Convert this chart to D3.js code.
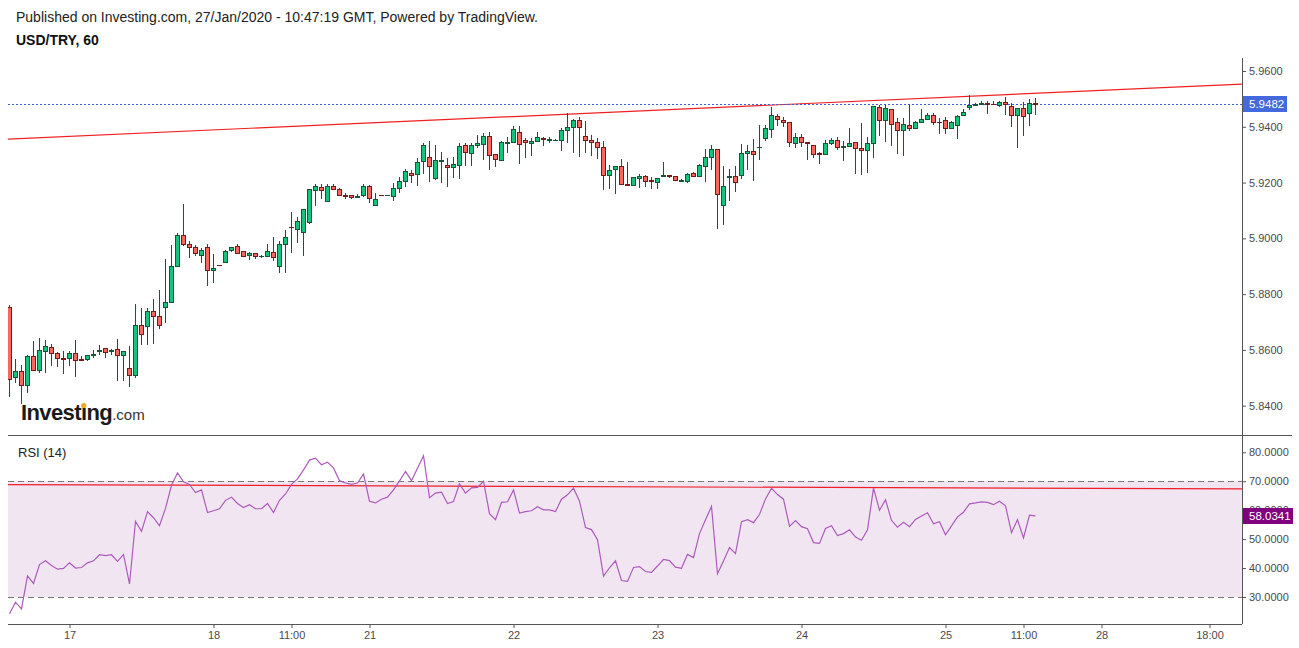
<!DOCTYPE html>
<html><head><meta charset="utf-8">
<script src="https://cdn.jsdelivr.net/npm/d3@7"></script>
<style>body{margin:0;background:#fff;} svg{display:block;font-family:"Liberation Sans",Arial,sans-serif;}</style>
</head><body>
<svg id="c" width="1299" height="648"></svg>
<script>
// ---- data (hourly USD/TRY candles, index 0 = first visible bar) ----
const opens = [
5.8754,5.8502,5.8523,5.8473,5.8578,5.8527,5.8595,5.8609,5.8589,5.8570,
5.8570,5.8588,5.8566,5.8566,5.8581,5.8595,5.8606,5.8597,5.8602,5.8581,
5.8534,5.8509,5.8688,5.8685,5.8738,5.8721,5.8755,5.8771,5.8900,5.9011,
5.8979,5.8968,5.8940,5.8968,5.8885,5.8905,5.8917,5.8957,5.8971,5.8954,
5.8939,5.8946,5.8935,5.8936,5.8950,5.8900,5.8979,5.9040,5.9033,5.9022,
5.9058,5.9172,5.9183,5.9133,5.9187,5.9176,5.9154,5.9154,5.9147,5.9155,
5.9187,5.9119,5.9155,5.9154,5.9151,5.9180,5.9205,5.9236,5.9230,5.9276,
5.9291,5.9215,5.9276,5.9262,5.9255,5.9262,5.9335,5.9307,5.9334,5.9337,
5.9366,5.9301,5.9280,5.9343,5.9344,5.9380,5.9351,5.9341,5.9348,5.9359,
5.9354,5.9352,5.9351,5.9387,5.9398,5.9423,5.9366,5.9352,5.9344,5.9327,
5.9226,5.9248,5.9258,5.9195,5.9191,5.9215,5.9222,5.9208,5.9201,5.9223,
5.9226,5.9222,5.9207,5.9205,5.9233,5.9223,5.9258,5.9291,5.9319,5.9119,
5.9221,5.9222,5.9226,5.9305,5.9312,5.9326,5.9359,5.9391,5.9438,5.9423,
5.9416,5.9341,5.9362,5.9345,5.9334,5.9305,5.9301,5.9341,5.9352,5.9327,
5.9330,5.9345,5.9323,5.9316,5.9341,5.9470,5.9423,5.9463,5.9416,5.9387,
5.9405,5.9395,5.9416,5.9427,5.9441,5.9418,5.9423,5.9395,5.9405,5.9441,
5.9470,5.9477,5.9481,5.9484,5.9483,5.9477,5.9488,5.9473,5.9441,5.9466,
5.9448,5.9485];
const highs = [
5.8760,5.8567,5.8547,5.8580,5.8632,5.8643,5.8635,5.8620,5.8594,5.8596,
5.8596,5.8635,5.8578,5.8581,5.8599,5.8617,5.8606,5.8603,5.8639,5.8595,
5.8615,5.8765,5.8749,5.8749,5.8782,5.8815,5.8926,5.8976,5.9018,5.9123,
5.8990,5.8975,5.8966,5.8980,5.8944,5.8905,5.8960,5.8968,5.8980,5.8954,
5.8950,5.8946,5.8942,5.8980,5.9004,5.8990,5.9029,5.9094,5.9076,5.9104,
5.9176,5.9194,5.9194,5.9194,5.9194,5.9180,5.9161,5.9154,5.9158,5.9194,
5.9190,5.9161,5.9157,5.9157,5.9198,5.9219,5.9247,5.9245,5.9288,5.9341,
5.9349,5.9334,5.9310,5.9287,5.9290,5.9341,5.9341,5.9341,5.9372,5.9377,
5.9380,5.9301,5.9349,5.9362,5.9403,5.9403,5.9359,5.9359,5.9380,5.9362,
5.9362,5.9356,5.9394,5.9448,5.9427,5.9434,5.9420,5.9369,5.9359,5.9348,
5.9262,5.9258,5.9283,5.9273,5.9219,5.9230,5.9226,5.9219,5.9215,5.9273,
5.9226,5.9222,5.9212,5.9233,5.9237,5.9266,5.9319,5.9334,5.9319,5.9259,
5.9248,5.9258,5.9338,5.9334,5.9355,5.9406,5.9406,5.9470,5.9445,5.9434,
5.9416,5.9377,5.9373,5.9345,5.9334,5.9309,5.9352,5.9359,5.9362,5.9348,
5.9395,5.9345,5.9412,5.9362,5.9473,5.9478,5.9478,5.9463,5.9430,5.9430,
5.9478,5.9420,5.9464,5.9448,5.9448,5.9431,5.9434,5.9420,5.9441,5.9462,
5.9513,5.9486,5.9491,5.9494,5.9491,5.9491,5.9506,5.9484,5.9466,5.9488,
5.9499,5.9502];
const lows = [
5.8431,5.8481,5.8406,5.8444,5.8527,5.8518,5.8518,5.8543,5.8540,5.8515,
5.8543,5.8504,5.8560,5.8560,5.8572,5.8583,5.8570,5.8580,5.8490,5.8490,
5.8466,5.8500,5.8618,5.8617,5.8622,5.8676,5.8695,5.8767,5.8896,5.8973,
5.8931,5.8935,5.8910,5.8830,5.8841,5.8901,5.8910,5.8952,5.8946,5.8936,
5.8921,5.8925,5.8930,5.8932,5.8920,5.8875,5.8875,5.8947,5.8985,5.8938,
5.9050,5.9115,5.9140,5.9133,5.9176,5.9154,5.9140,5.9140,5.9147,5.9147,
5.9125,5.9119,5.9153,5.9152,5.9135,5.9162,5.9185,5.9197,5.9189,5.9230,
5.9201,5.9209,5.9197,5.9185,5.9215,5.9213,5.9260,5.9260,5.9323,5.9280,
5.9244,5.9255,5.9280,5.9305,5.9341,5.9265,5.9287,5.9294,5.9344,5.9331,
5.9341,5.9348,5.9314,5.9343,5.9305,5.9293,5.9307,5.9296,5.9286,5.9174,
5.9178,5.9160,5.9194,5.9190,5.9190,5.9180,5.9183,5.9176,5.9176,5.9219,
5.9216,5.9205,5.9205,5.9198,5.9219,5.9219,5.9202,5.9244,5.9033,5.9049,
5.9135,5.9165,5.9212,5.9244,5.9205,5.9280,5.9349,5.9359,5.9402,5.9398,
5.9327,5.9323,5.9327,5.9280,5.9287,5.9266,5.9301,5.9334,5.9316,5.9277,
5.9327,5.9230,5.9226,5.9236,5.9287,5.9366,5.9344,5.9330,5.9301,5.9294,
5.9384,5.9395,5.9416,5.9423,5.9405,5.9373,5.9373,5.9395,5.9355,5.9438,
5.9459,5.9473,5.9477,5.9445,5.9477,5.9470,5.9441,5.9400,5.9323,5.9366,
5.9402,5.9441];
const closes = [
5.8496,5.8524,5.8473,5.8578,5.8527,5.8599,5.8614,5.8588,5.8570,5.8569,
5.8588,5.8563,5.8565,5.8581,5.8585,5.8600,5.8594,5.8599,5.8581,5.8595,
5.8509,5.8688,5.8656,5.8738,5.8721,5.8690,5.8771,5.8900,5.9011,5.8979,
5.8968,5.8946,5.8957,5.8885,5.8893,5.8903,5.8954,5.8968,5.8946,5.8936,
5.8946,5.8936,5.8937,5.8954,5.8934,5.8979,5.9004,5.9039,5.9061,5.9104,
5.9176,5.9187,5.9172,5.9187,5.9176,5.9154,5.9151,5.9147,5.9151,5.9187,
5.9144,5.9140,5.9154,5.9156,5.9180,5.9205,5.9240,5.9226,5.9273,5.9334,
5.9258,5.9280,5.9280,5.9255,5.9266,5.9330,5.9311,5.9335,5.9341,5.9366,
5.9298,5.9283,5.9344,5.9345,5.9391,5.9337,5.9344,5.9348,5.9362,5.9355,
5.9356,5.9353,5.9387,5.9398,5.9423,5.9398,5.9352,5.9344,5.9327,5.9226,
5.9244,5.9258,5.9194,5.9191,5.9219,5.9222,5.9205,5.9205,5.9215,5.9226,
5.9223,5.9208,5.9209,5.9230,5.9223,5.9262,5.9291,5.9319,5.9158,5.9187,
5.9223,5.9201,5.9305,5.9312,5.9301,5.9328,5.9394,5.9441,5.9427,5.9416,
5.9344,5.9362,5.9344,5.9341,5.9301,5.9301,5.9341,5.9352,5.9327,5.9330,
5.9341,5.9323,5.9316,5.9341,5.9473,5.9423,5.9466,5.9409,5.9387,5.9409,
5.9395,5.9416,5.9427,5.9441,5.9416,5.9416,5.9395,5.9416,5.9438,5.9452,
5.9477,5.9482,5.9484,5.9481,5.9481,5.9488,5.9482,5.9441,5.9466,5.9438,
5.9484,5.9482];
const rsi = [
24.2,28.2,25.9,37.3,34.7,41.2,42.5,40.9,39.6,39.9,
41.8,40.0,40.2,41.8,42.5,44.6,44.3,44.6,42.3,44.7,
34.5,56.1,52.7,59.5,57.4,54.6,60.6,68.6,72.9,69.8,
68.9,66.1,67.0,59.2,59.8,60.5,63.4,64.5,62.3,60.9,
61.9,60.5,60.5,62.3,59.2,63.4,65.6,68.9,70.8,73.9,
77.3,78.0,75.7,76.6,74.6,70.2,69.4,68.9,69.4,72.5,
63.1,62.5,63.8,64.5,67.0,70.1,73.4,70.2,74.5,78.8,
64.3,65.9,66.2,62.3,63.0,69.1,65.9,67.7,67.9,70.0,
58.8,56.7,62.7,62.9,67.0,59.0,59.5,59.8,61.2,60.1,
60.1,59.5,63.8,65.3,67.6,63.1,54.0,53.3,49.8,37.2,
40.1,42.5,35.7,35.4,40.2,40.5,38.8,38.5,40.7,43.0,
42.6,40.3,39.9,44.7,43.6,51.9,56.7,61.3,38.0,42.4,
47.1,45.0,56.0,56.7,55.7,58.5,63.9,67.6,65.4,63.8,
54.4,56.4,54.3,53.6,48.8,48.5,53.7,54.6,51.2,51.9,
53.2,50.7,49.6,53.2,67.6,60.0,63.6,56.5,54.1,55.8,
54.3,56.8,58.0,59.1,55.3,56.0,51.5,54.6,57.7,59.3,
62.2,62.5,62.9,62.7,61.9,63.1,61.5,52.2,56.7,50.4,
58.3,58.0341];
const priceTicks = [5.84,5.86,5.88,5.90,5.92,5.94,5.96];
const rsiTicks = [30,40,50,60,70,80];
const timeTickIdx = [10,34,47,60,84,108,132,156,169,182,200];
const timeTickLabels = ["17","18","11:00","21","22","23","24","25","11:00","28","18:00"];
const trendLine = [[-0.25,5.9356],[205.4,5.9553]];
const rsiRedLine = [[-0.25,68.85],[205.4,67.35]];
const rsiBand = [30,70];
const lastPrice = 5.9482;
const lastRsi = 58.0341;

// ---- layout ----
const L = 8, R = 1242;
const svg = d3.select("#c");
const x = d3.scaleLinear().domain([0,200]).range([9.5,1209.5]);
const y = d3.scaleLinear().domain([5.84,5.96]).range([405.7,71]);
const yr = d3.scaleLinear().domain([30,80]).range([597,452.3]);

const defs = svg.append("defs");
defs.append("clipPath").attr("id","cp").append("rect").attr("x",L).attr("y",58).attr("width",R-L).attr("height",435-58);
defs.append("clipPath").attr("id","cr").append("rect").attr("x",L).attr("y",436).attr("width",R-L).attr("height",624-436);

// header
svg.append("text").attr("x",16).attr("y",22).attr("font-size",14).attr("fill","#222")
  .text("Published on Investing.com, 27/Jan/2020 - 10:47:19 GMT, Powered by TradingView.");
svg.append("text").attr("x",16).attr("y",45).attr("font-size",14).attr("font-weight","bold").attr("fill","#111")
  .text("USD/TRY, 60");

// logo
const logo = svg.append("text").attr("x",21).attr("y",420);
const inv = logo.append("tspan").attr("font-size",22).attr("font-weight","bold").attr("fill","#1a1a1a").attr("letter-spacing",-0.6).text("Investing");
logo.append("tspan").attr("font-size",15).attr("fill","#333").text(".com");

// price panel
const gp = svg.append("g").attr("clip-path","url(#cp)");
gp.append("line").attr("x1",x(trendLine[0][0])).attr("y1",y(trendLine[0][1]))
  .attr("x2",x(trendLine[1][0])).attr("y2",y(trendLine[1][1]))
  .attr("stroke","#f02020").attr("stroke-width",1.2);
gp.append("line").attr("x1",L).attr("x2",R).attr("y1",Math.round(y(lastPrice))+0.5).attr("y2",Math.round(y(lastPrice))+0.5)
  .attr("stroke","#3f5fd0").attr("stroke-width",1).attr("stroke-dasharray","2,2");

const idx = d3.range(opens.length);
const up = i => closes[i] >= opens[i];
gp.append("g").attr("shape-rendering","crispEdges").selectAll("line").data(idx).join("line")
  .attr("x1",i=>x(i)).attr("x2",i=>x(i))
  .attr("y1",i=>y(highs[i])).attr("y2",i=>y(lows[i]))
  .attr("stroke","#21503a").attr("stroke-width",1);
gp.append("g").attr("shape-rendering","crispEdges").selectAll("rect").data(idx).join("rect")
  .attr("x",i=>x(i)-2).attr("width",4)
  .attr("y",i=>Math.round(y(Math.max(opens[i],closes[i]))))
  .attr("height",i=>Math.max(0.01,Math.round(y(Math.min(opens[i],closes[i])))-Math.round(y(Math.max(opens[i],closes[i])))))
  .attr("fill",i=>up(i)?"#14c47c":"#fa675c")
  .attr("stroke",i=>up(i)?"#1c5236":"#6e1d1d").attr("stroke-width",1);

// RSI panel
const gr = svg.append("g").attr("clip-path","url(#cr)");
gr.append("rect").attr("x",L).attr("width",R-L).attr("y",yr(rsiBand[1])).attr("height",yr(rsiBand[0])-yr(rsiBand[1]))
  .attr("fill","#f1e5f2");
rsiBand.forEach(v=>{
  gr.append("line").attr("x1",L).attr("x2",R).attr("y1",Math.round(yr(v))+0.5).attr("y2",Math.round(yr(v))+0.5)
    .attr("stroke","#7a7a7a").attr("stroke-dasharray","6,4");
});
gr.append("line").attr("x1",x(rsiRedLine[0][0])).attr("y1",yr(rsiRedLine[0][1]))
  .attr("x2",x(rsiRedLine[1][0])).attr("y2",yr(rsiRedLine[1][1]))
  .attr("stroke","#f01e28").attr("stroke-width",1.2);
gr.append("path").datum(idx)
  .attr("d",d3.line().x(i=>x(i)).y(i=>yr(rsi[i])))
  .attr("fill","none").attr("stroke","#ad5bbb").attr("stroke-width",1.2);
svg.append("text").attr("x",18).attr("y",457).attr("font-size",13).attr("fill","#222").text("RSI (14)");

// axes
const axCol = "#555";
function styleAxis(g){
  g.select(".domain").remove();
  g.selectAll(".tick line").attr("stroke",axCol);
  g.selectAll(".tick text").attr("fill","#4a4a4a").attr("font-size",11).attr("font-family","Liberation Sans, Arial, sans-serif");
}
svg.append("g").attr("transform",`translate(${R},0)`)
  .call(d3.axisRight(y).tickValues(priceTicks).tickFormat(d3.format(".4f")).tickSize(4)).call(styleAxis);
svg.append("g").attr("transform",`translate(${R},0)`)
  .call(d3.axisRight(yr).tickValues(rsiTicks).tickFormat(d3.format(".4f")).tickSize(4)).call(styleAxis);
svg.append("g").attr("transform",`translate(0,624)`)
  .call(d3.axisBottom(x).tickValues(timeTickIdx).tickFormat((d,k)=>timeTickLabels[k]).tickSize(4)).call(styleAxis);

svg.append("line").attr("x1",R+0.5).attr("x2",R+0.5).attr("y1",58).attr("y2",624).attr("stroke",axCol);
svg.append("line").attr("x1",L).attr("x2",1292).attr("y1",435.5).attr("y2",435.5).attr("stroke",axCol);
svg.append("line").attr("x1",L).attr("x2",R).attr("y1",624.5).attr("y2",624.5).attr("stroke",axCol);

// last value labels
function tag(yv, txt, col, w){
  const g = svg.append("g");
  g.append("rect").attr("x",R+1).attr("y",Math.round(yv)-8).attr("width",w).attr("height",16).attr("fill",col);
  g.append("text").attr("x",R+7).attr("y",yv).attr("dy","0.35em").attr("font-size",11.5).attr("fill","#fff").text(txt);
}
tag(y(lastPrice), d3.format(".4f")(lastPrice), "#4369dd", 44);
tag(yr(lastRsi), d3.format(".4f")(lastRsi), "#800080", 50);

// orange dot on logo 'i'
try{
  const ex = inv.node().getExtentOfChar(6);
  svg.append("circle").attr("cx",ex.x+ex.width/2).attr("cy",ex.y+ex.height*0.22).attr("r",2.6).attr("fill","#f5a623");
}catch(e){}
</script>
</body></html>
